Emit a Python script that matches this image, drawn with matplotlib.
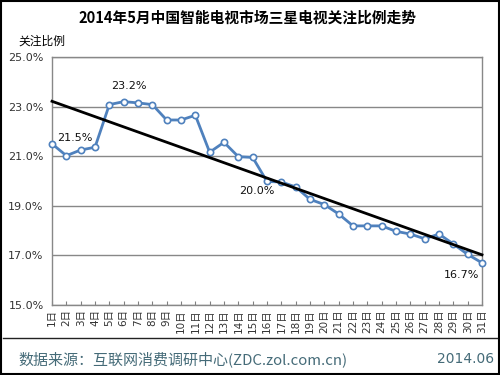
import matplotlib
matplotlib.use("Agg")
import matplotlib.pyplot as plt
import numpy as np
from matplotlib.patches import Rectangle
from matplotlib.lines import Line2D

plt.rcParams['font.family'] = ['DejaVu Sans', 'Noto Sans CJK SC']

days = list(range(1, 32))
day_labels = [f"{d}日" for d in days]
share = [21.5, 21.02, 21.25, 21.36, 23.08, 23.2, 23.15, 23.08, 22.46, 22.46,
         22.65, 21.16, 21.56, 20.98, 20.95, 19.98, 19.96, 19.76, 19.26, 19.05,
         18.67, 18.19, 18.19, 18.19, 17.97, 17.86, 17.67, 17.86, 17.46, 17.04,
         16.7]
yticks = [15.0, 17.0, 19.0, 21.0, 23.0, 25.0]
title = "2014年5月中国智能电视市场三星电视关注比例走势"
ylabel = "关注比例"
source = "数据来源：互联网消费调研中心(ZDC.zol.com.cn)"
date = "2014.06"

fig = plt.figure(figsize=(5, 3.75), dpi=100)
ax = fig.add_axes([0.104, 0.1867, 0.86, 0.6613])

ax.plot(days, share, color='#4f81bd', lw=2, marker='o', ms=4.5,
        markerfacecolor='white', markeredgecolor='#4f81bd', markeredgewidth=1.2,
        zorder=3, clip_on=False)

coef = np.polyfit(days, share, 1)
tx = np.array([days[0], days[-1]])
ax.plot(tx, np.polyval(coef, tx), color='black', lw=2, zorder=4, clip_on=False)

ax.set_xlim(1, 31)
ax.set_ylim(15, 25)
ax.set_yticks(yticks)
ax.set_yticklabels([f"{v:.1f}%" for v in yticks], fontsize=8, color='#333333')
ax.set_xticks(days)
ax.set_xticklabels(day_labels, rotation=90, fontsize=7.5, color='#333333')
ax.tick_params(axis='y', length=0, pad=6)
ax.tick_params(axis='x', direction='in', length=3, color='#808080', pad=3)
ax.grid(axis='y', color='#888888', lw=1)
ax.set_axisbelow(True)
for s in ax.spines.values():
    s.set_color('#888888')
    s.set_linewidth(1)

def lab(i, text, dx, dy):
    ax.annotate(text, (days[i], share[i]), xytext=(dx, dy), textcoords='offset pixels',
                ha='center', va='center', fontsize=8, color='#111111')

lab(0, f"{share[0]:.1f}%", 23, 6)
lab(5, f"{share[5]:.1f}%", 5, 16)
lab(15, f"{share[15]:.1f}%", -10, -10)
lab(30, f"{share[30]:.1f}%", -20, -12)

fig.text(0.496, 0.954, title, ha='center', va='center', fontsize=10.6,
         fontweight='bold', family=['Noto Sans CJK SC', 'DejaVu Sans'])
fig.text(0.083, 0.89, ylabel, ha='center', va='center', fontsize=8.5,
         family=['Noto Sans CJK SC', 'DejaVu Sans'])

fig.add_artist(Line2D([0.006, 0.994], [0.0987, 0.0987], color='#222222', lw=1,
                      transform=fig.transFigure))
fig.text(0.036, 0.043, source, ha='left', va='center', fontsize=10.8,
         color='#456b78', family=['Noto Sans CJK SC', 'DejaVu Sans'])
fig.text(0.988, 0.043, date, ha='right', va='center', fontsize=10,
         color='#456b78', family=['DejaVu Sans'])

fig.add_artist(Rectangle((0.001, 0.002), 0.996, 0.996, fill=False, ec='black',
                         lw=1.5, transform=fig.transFigure))

fig.savefig('out.png', dpi=100)
